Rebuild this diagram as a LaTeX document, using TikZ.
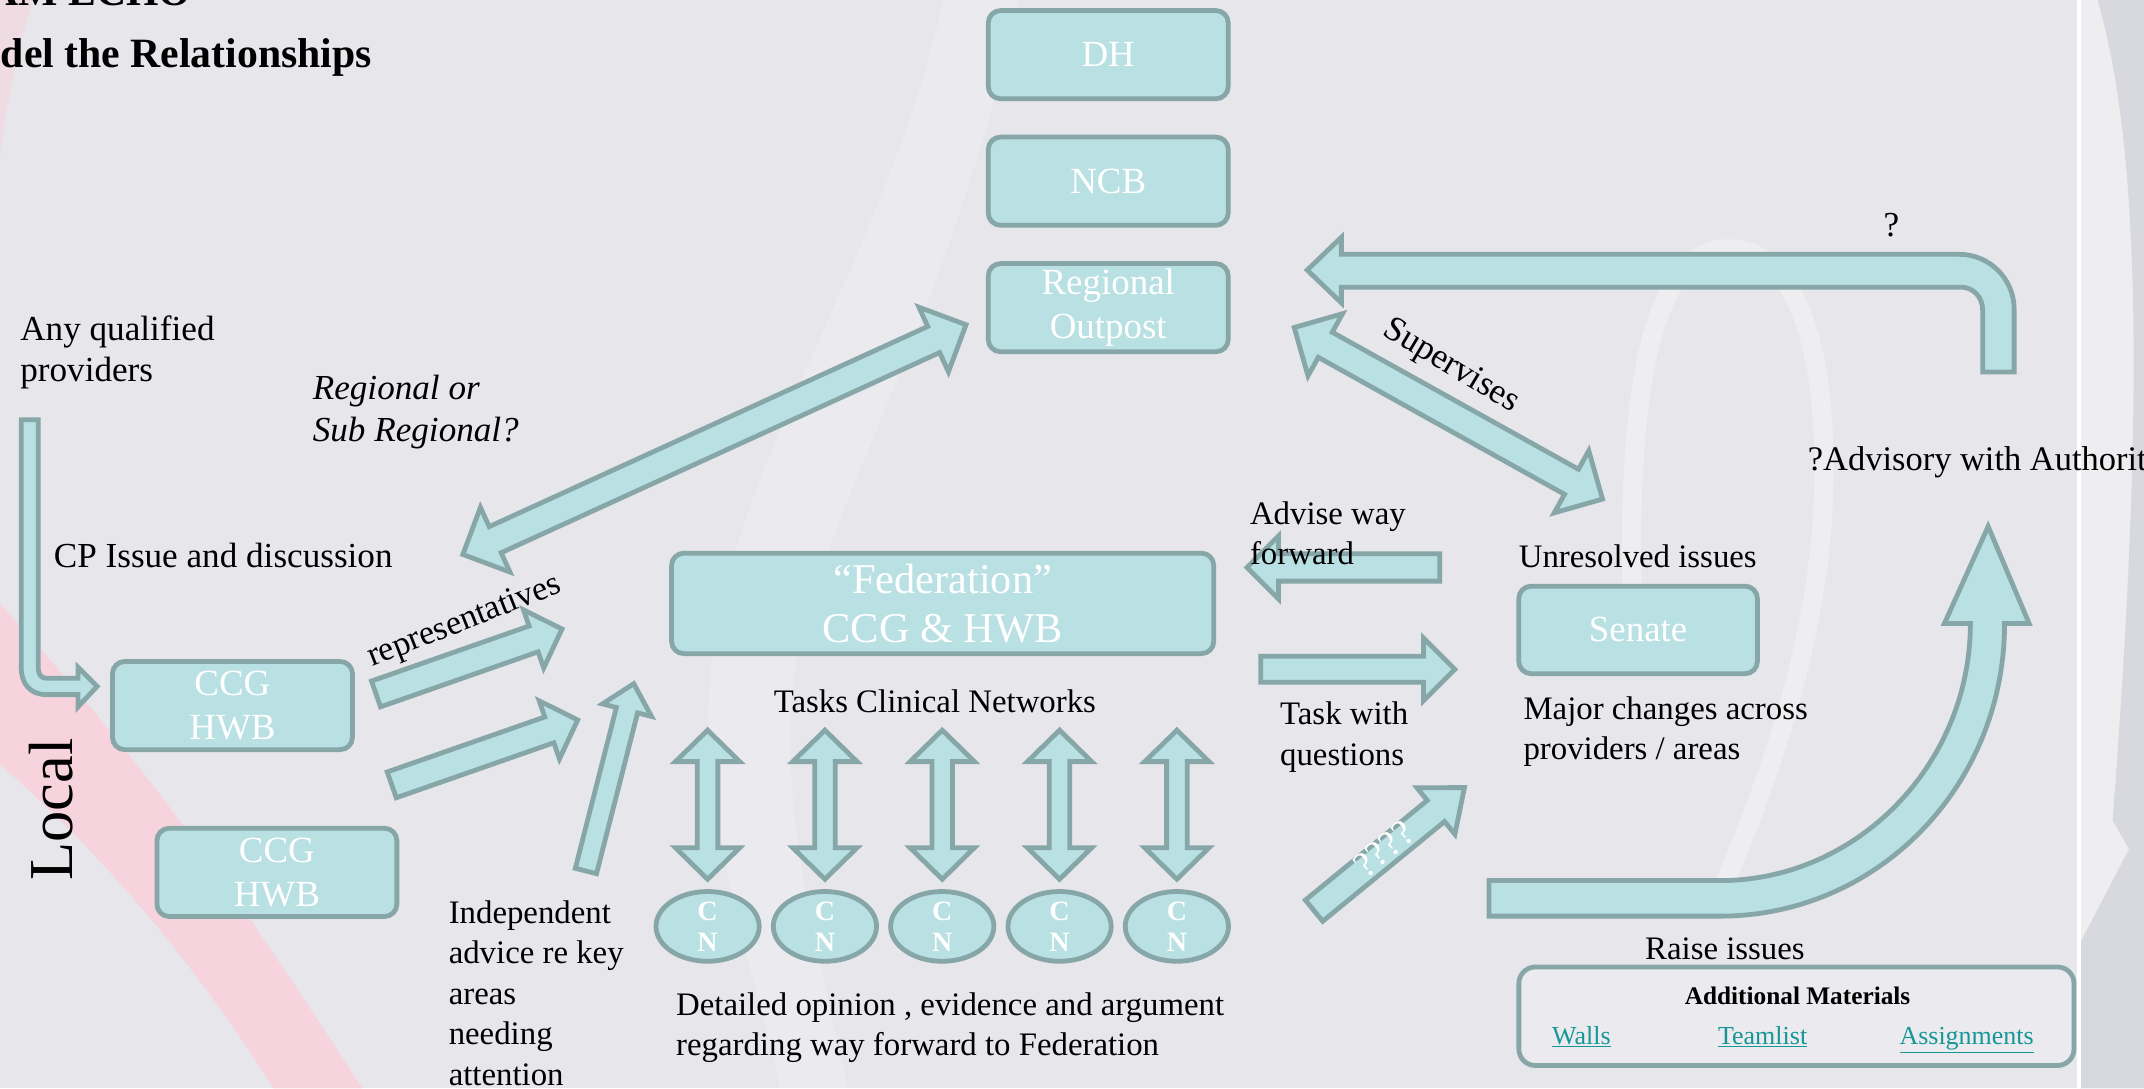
\documentclass[tikz,border=0pt]{standalone}
\usepackage{fontspec}
\setmainfont{Liberation Serif}
\usetikzlibrary{calc,positioning,shapes.geometric}

\definecolor{slidebg}{RGB}{230,230,235}
\definecolor{cnfill}{RGB}{185,224,227}
\definecolor{cnline}{RGB}{134,166,168}
\definecolor{linkcol}{RGB}{22,150,150}
\definecolor{pinkband}{RGB}{250,210,219}
\definecolor{stripbg}{RGB}{238,238,241}
\definecolor{stripdk}{RGB}{216,217,222}

% block arrow: [style]{from}{to}{half shaft}{half head}{head length}
\newcommand{\blockarrow}[6][]{%
  \coordinate (ba-h) at ($(#3)!#6!(#2)$);
  \draw[#1] ($(#2)!#4!90:(#3)$) -- ($(ba-h)!#4!90:(#3)$) -- ($(ba-h)!#5!90:(#3)$) -- (#3)
    -- ($(ba-h)!#5!-90:(#3)$) -- ($(ba-h)!#4!-90:(#3)$) -- ($(#2)!#4!-90:(#3)$) -- cycle;}
% same, with a head at both ends
\newcommand{\dblarrow}[6][]{%
  \coordinate (da-a) at ($(#2)!#6!(#3)$);
  \coordinate (da-b) at ($(#3)!#6!(#2)$);
  \draw[#1] (#2) -- ($(da-a)!#5!90:(#3)$) -- ($(da-a)!#4!90:(#3)$)
    -- ($(da-b)!#4!90:(#3)$) -- ($(da-b)!#5!90:(#3)$) -- (#3)
    -- ($(da-b)!#5!-90:(#3)$) -- ($(da-b)!#4!-90:(#3)$)
    -- ($(da-a)!#4!-90:(#3)$) -- ($(da-a)!#5!-90:(#3)$) -- cycle;}

\begin{document}
\begin{tikzpicture}[
        x=1pt, y=-1pt,
        box/.style={draw=cnline, fill=cnfill, line width=3.5pt, rounded corners=9pt, text=white, align=center, inner sep=0pt, minimum width=175.5pt, minimum height=64.5pt, font=\fontsize{27}{32}\selectfont},
        net/.style={ellipse, draw=cnline, fill=cnfill, line width=3.5pt, minimum width=75.5pt, minimum height=41.5pt, inner sep=0pt, text=white, align=center, font=\fontsize{20.5}{22.5}\selectfont\bfseries},
        blk/.style={draw=cnline, fill=cnfill, line width=3.5pt},
        txt/.style={inner sep=0pt, anchor=base west, align=left, font=\fontsize{25.7}{30.5}\selectfont},
        txts/.style={txt, font=\fontsize{24}{29.6}\selectfont},
        ttl/.style={inner sep=0pt, anchor=base east, font=\fontsize{30.5}{36}\selectfont\bfseries},
        lnk/.style={inner sep=0pt, anchor=base west, text=linkcol, font=\fontsize{19}{22}\selectfont},
      ]

      \useasboundingbox (0,0) rectangle (1568,796);
      \clip (0,0) rectangle (1568,796);

      % slide background
      \fill[slidebg] (0,0) rectangle (1568,796);
      \fill[white, opacity=0.2] (690,0) .. controls (640,220) and (500,380) .. (520,560) .. controls (530,660) and (560,740) .. (570,796) -- (620,796) .. controls (600,700) and (570,600) .. (580,500) .. controls (595,380) and (690,250) .. (745,0) -- cycle;
      \draw[white, opacity=0.35, line width=14pt] (1195,470) .. controls (1188,320) and (1200,185) .. (1262,182) .. controls (1325,180) and (1340,290) .. (1332,390) .. controls (1324,480) and (1295,570) .. (1255,660);
      \fill[pinkband, opacity=0.85] (0,442) .. controls (110,560) and (190,680) .. (265,796) -- (200,796) .. controls (140,700) and (70,620) .. (0,559) -- cycle;
      \fill[pinkband, opacity=0.45] (0,0) -- (24,0) .. controls (12,40) and (4,80) .. (0,115) -- cycle;
      \fill[stripbg] (1521,0) rectangle (1568,796);
      \fill[stripdk] (1534,0) .. controls (1566,110) and (1568,300) .. (1545,600) -- (1568,640) -- (1568,0) -- cycle;
      \fill[stripdk] (1521,690) -- (1568,600) -- (1568,796) -- (1521,796) -- cycle;
      \draw[white, line width=2.5pt] (1520.5,0) -- (1520.5,796);

      % arrow ends
      \coordinate (reg-a) at (338.5,405.5);
      \coordinate (reg-b) at (706.5,237.5);
      \coordinate (sup-a) at (946.5,239.5);
      \coordinate (sup-b) at (1172,365);
      \coordinate (rep1-a) at (275,507.5);
      \coordinate (rep1-b) at (411,460);
      \coordinate (rep2-a) at (286.5,574);
      \coordinate (rep2-b) at (422.5,526.5);
      \coordinate (ind-a) at (428.5,637);
      \coordinate (ind-b) at (463.5,500);
      \coordinate (adv-a) at (1053,415);
      \coordinate (adv-b) at (912,415);
      \coordinate (tsk-a) at (922,489.5);
      \coordinate (tsk-b) at (1064,489.5);
      \coordinate (qst-a) at (961,666);
      \coordinate (qst-b) at (1071,576);

      \dblarrow[blk]{reg-a}{reg-b}{10.5pt}{26pt}{26pt}
      \dblarrow[blk]{sup-a}{sup-b}{10.5pt}{26pt}{26pt}
      \blockarrow[blk]{rep1-a}{rep1-b}{10pt}{22.5pt}{22pt}
      \blockarrow[blk]{rep2-a}{rep2-b}{10pt}{22.5pt}{22pt}
      \blockarrow[blk]{ind-a}{ind-b}{8pt}{18.5pt}{20pt}
      \blockarrow[blk]{adv-a}{adv-b}{10pt}{23pt}{23pt}
      \blockarrow[blk]{tsk-a}{tsk-b}{9.5pt}{23pt}{23pt}
      \blockarrow[blk]{qst-a}{qst-b}{10pt}{22pt}{27pt}

      % bent arrows
      \draw[blk] (956,197.5) -- (981,173.5) -- (981,186) -- (1433,186) .. controls (1455,186) and (1473,204) .. (1473,226) -- (1473,272) -- (1450,272) -- (1450,227) .. controls (1450,217) and (1443,210) .. (1434,210) -- (981,210) -- (981,221.5) -- cycle;
      \draw[blk] (1089,644) -- (1089,670) -- (1258,670) .. controls (1373,670) and (1466,575) .. (1466,456) -- (1484,456) -- (1454,385) -- (1422,456) -- (1441,456) .. controls (1441,559) and (1358,644) .. (1258,644) -- cycle;
      \draw[blk] (15.5,307) -- (15.5,488) .. controls (15.5,500) and (22,508) .. (34,508) -- (57,508) -- (57,517) -- (71,502) -- (57,488) -- (57,496) -- (34,496) .. controls (30,496) and (28,493) .. (28,489) -- (28,307) -- cycle;

      % boxes
      \node[box] (dh) at (810.5,40) {DH};
      \node[box, below=24.5pt of dh] (ncb) {NCB};
      \node[box, below=24.5pt of ncb] (regout) {Regional\\Outpost};
      \node[box, minimum width=396.5pt, minimum height=73.5pt, font=\fontsize{31}{36}\selectfont] (fed) at (689.4,441.3) {“Federation”\\CCG \& HWB};
      \node[box, minimum width=174.5pt, minimum height=64pt] (senate) at (1198,460.7) {Senate};
      \node[box] (ccga) at (170,516) {CCG\\HWB};
      \node[box] (ccgb) at (202.5,638) {CCG\\HWB};

      % clinical networks
      \foreach \i in {0,...,4} {
        \node[net] (cn\i) at ({517.5+85.8*\i},677.5) {C\\N};
        \coordinate (cnt\i) at ({517.5+85.8*\i},534);
        \coordinate (cnb\i) at ({517.5+85.8*\i},643);
        \dblarrow[blk]{cnt\i}{cnb\i}{7.5pt}{23.5pt}{23pt}
      }

      \node[draw=cnline, line width=3.5pt, rounded corners=12pt, fill=stripbg!60!slidebg, minimum width=406pt, minimum height=72pt] (addmat) at (1313.8,743.2) {};
      \node[inner sep=0pt, anchor=base, font=\fontsize{18.5}{22}\selectfont\bfseries] (addttl) at (1314.6,734.6) {Additional Materials};
      \node[lnk] (walls) at (1135,763.8) {\underline{Walls}};
      \node[lnk] (teamlist) at (1256.3,763.8) {\underline{Teamlist}};
      \node[lnk] (assign) at (1389,763.8) {\underline{Assignments}};

      % labels (multi-line ones sit on their last baseline)
      \node[ttl] (title-a) at (140,4) {AM ECHO};
      \node[ttl] (title-b) at (272,49) {del the Relationships};
      \node[txt] (anyq) at (14.7,279.2) {Any qualified\\providers};
      \node[txt, font=\fontsize{25.7}{30.5}\selectfont\itshape] (regq) at (228.6,323) {Regional or\\Sub Regional?};
      \node[txt] (cpiss) at (39.2,415) {CP Issue and discussion};
      \node[inner sep=0pt, rotate=90, font=\fontsize{45.7}{50}\selectfont] (local) at (37.5,592) {Local};
      \node[inner sep=0pt, rotate=21.5, font=\fontsize{25}{30}\selectfont] (reps) at (340,455) {representatives};
      \node[txts] (indep) at (328,793.5) {Independent\\advice re key\\areas\\needing\\attention};
      \node[txts, anchor=base] (tasks) at (683.7,521) {Tasks Clinical Networks};
      \node[txts, font=\fontsize{24}{29.2}\selectfont] (detail) at (494.3,771.8) {Detailed opinion , evidence and argument\\regarding way forward to Federation};
      \node[txts] (advise) at (914,413) {Advise way\\forward};
      \node[txts] (taskq) at (936,559.6) {Task with\\questions};
      \node[txts] (unres) at (1110.6,414.8) {Unresolved issues};
      \node[txts] (major) at (1114,555.5) {Major changes across\\providers / areas};
      \node[txts] (raise) at (1203,701.4) {Raise issues};
      \node[txt, font=\fontsize{25.2}{30}\selectfont] (advisory) at (1322,343.8) {?Advisory with Authorit};
      \node[inner sep=0pt, font=\fontsize{25.7}{30}\selectfont] (qmark) at (1383.3,164.6) {?};
      \node[inner sep=0pt, rotate=-31, font=\fontsize{25.7}{30}\selectfont] (sup) at (1061,268) {Supervises};
      \node[inner sep=0pt, rotate=40, text=white, font=\fontsize{27}{30}\selectfont] (quest) at (1012,621) {????};

    \end{tikzpicture}
\end{document}
